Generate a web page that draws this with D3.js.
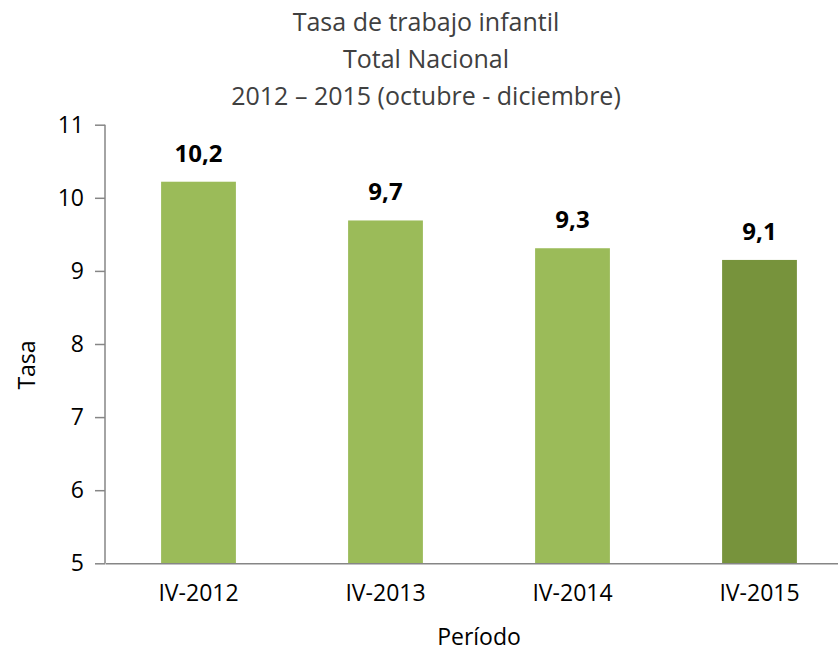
<!DOCTYPE html>
<html>
<head>
<meta charset="utf-8">
<script src="https://cdn.jsdelivr.net/npm/d3@7"></script>
<style>
  body { margin: 0; background: #fff; }
  svg { display: block; }
  .tick text { font-family: "Open Sans", sans-serif; font-size: 23px; fill: #000; }
  .title { font-family: "Open Sans", sans-serif; font-size: 25px; fill: #404040; }
  .axis-title { font-family: "Open Sans", sans-serif; font-size: 23px; fill: #000; }
  .bar-label { font-family: "Open Sans", sans-serif; font-size: 24px; font-weight: bold; fill: #000; }
</style>
</head>
<body>
<div id="chart"></div>
<script>
// data
const periods = ["IV-2012", "IV-2013", "IV-2014", "IV-2015"];
const rates = [10.22, 9.69, 9.31, 9.15];
const rateLabels = ["10,2", "9,7", "9,3", "9,1"];
const yTicks = [5, 6, 7, 8, 9, 10, 11];
const titleLines = ["Tasa de trabajo infantil", "Total Nacional", "2012 \u2013 2015 (octubre - diciembre)"];

const width = 838, height = 652;
const margin = { top: 124.7, left: 105, bottom: 88.7 };

const svg = d3.select("#chart").append("svg")
  .attr("width", width)
  .attr("height", height);

const x = d3.scaleBand()
  .domain(periods)
  .range([margin.left, margin.left + 4 * 187])
  .paddingInner(0.6)
  .paddingOuter(0.3);

const y = d3.scaleLinear()
  .domain([5, 11])
  .range([height - margin.bottom, margin.top]);

// title
svg.selectAll(".title").data(titleLines).enter().append("text")
  .attr("class", "title")
  .attr("x", 426)
  .attr("y", (d, i) => 31 + i * 37)
  .attr("text-anchor", "middle")
  .text(d => d);

// bars
svg.selectAll(".bar").data(periods).enter().append("rect")
  .attr("class", "bar")
  .attr("x", d => x(d))
  .attr("width", x.bandwidth())
  .attr("y", (d, i) => y(rates[i]))
  .attr("height", (d, i) => y(5) - y(rates[i]))
  .attr("fill", (d, i) => i === periods.length - 1 ? "#77933C" : "#9BBB59");

// value labels
svg.selectAll(".bar-label").data(periods).enter().append("text")
  .attr("class", "bar-label")
  .attr("x", d => x(d) + x.bandwidth() / 2)
  .attr("y", (d, i) => y(rates[i]) - 20)
  .attr("text-anchor", "middle")
  .text((d, i) => rateLabels[i]);

// y axis
const yAxis = svg.append("g")
  .attr("transform", `translate(${margin.left},0)`)
  .call(d3.axisLeft(y).tickValues(yTicks).tickSize(10).tickPadding(11).tickFormat(d3.format("d")));
yAxis.select(".domain").attr("stroke", "#868686").attr("stroke-width", 1.5).attr("d", `M0,${y(11)}V${y(5)}`);
yAxis.selectAll(".tick line").attr("stroke", "#868686").attr("stroke-width", 1.5);

// x axis
const xAxis = svg.append("g")
  .attr("transform", `translate(0,${y(5)})`)
  .call(d3.axisBottom(x).tickSize(0).tickPadding(21));
xAxis.select(".domain").attr("stroke", "#868686").attr("stroke-width", 1.5);

// axis titles
svg.append("text")
  .attr("class", "axis-title")
  .attr("transform", `translate(35,365) rotate(-90)`)
  .attr("text-anchor", "middle")
  .text("Tasa");

svg.append("text")
  .attr("class", "axis-title")
  .attr("x", 479)
  .attr("y", 645)
  .attr("text-anchor", "middle")
  .text("Período");
</script>
</body>
</html>
